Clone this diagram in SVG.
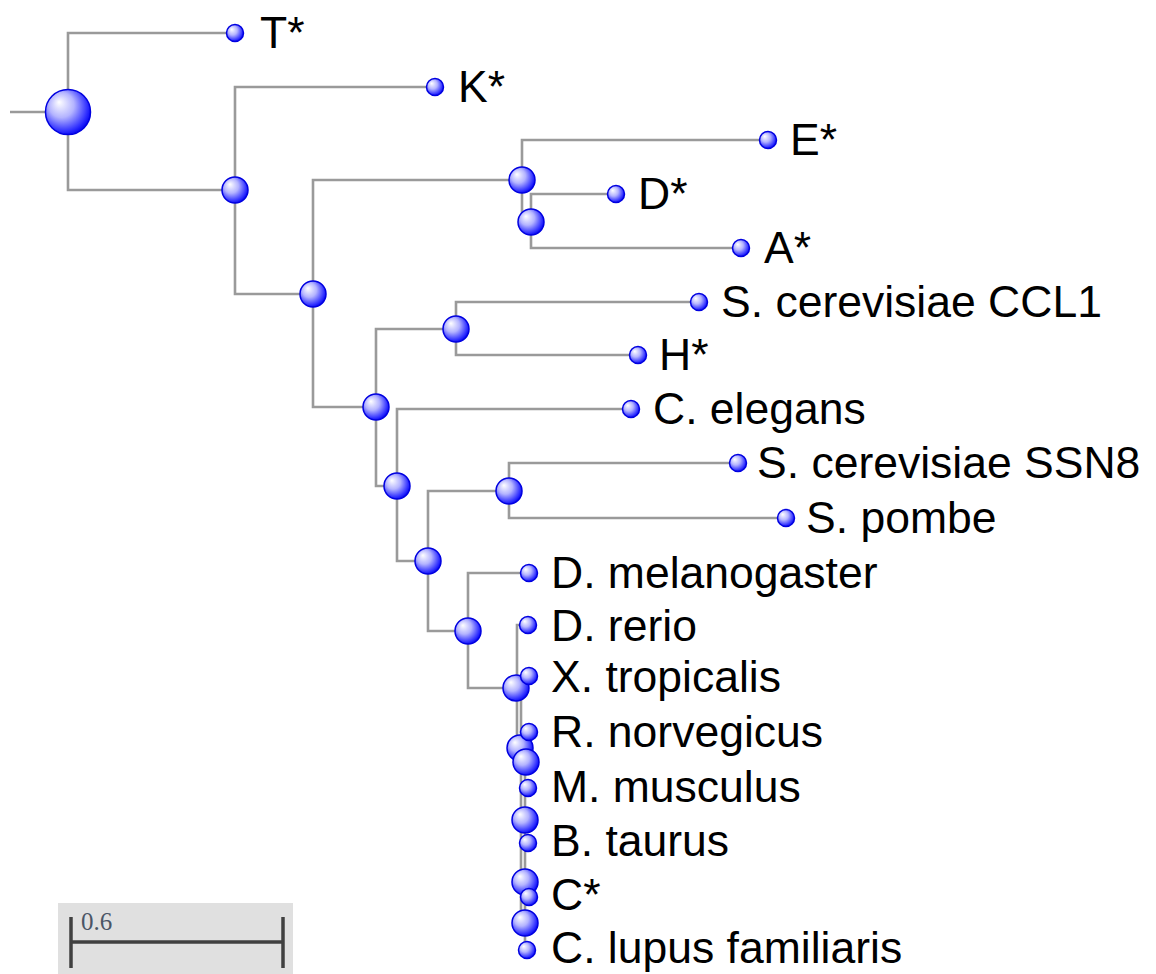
<svg xmlns="http://www.w3.org/2000/svg" width="1156" height="974" viewBox="0 0 1156 974">
<defs>
<radialGradient id="ball" cx="0.42" cy="0.42" r="0.62" fx="0.3" fy="0.28">
<stop offset="0" stop-color="#ffffff"/>
<stop offset="0.45" stop-color="#b4b4ff"/>
<stop offset="0.85" stop-color="#3030ff"/>
<stop offset="1" stop-color="#0000f0"/>
</radialGradient>
<style>
.br{fill:none;stroke:#9a9a9a;stroke-width:2.6}
.n{fill:url(#ball);stroke:#0000e0;stroke-width:1.5}
.lab{font-family:"Liberation Sans",Arial,sans-serif;font-size:44.5px;fill:#000}
.sb{fill:none;stroke:#404040;stroke-width:3.5}
</style>
</defs>
<rect width="1156" height="974" fill="#ffffff"/>
<g id="connectors" class="br">
<path d="M10,112 H46"/>
<path d="M235,33 H68 V190 H235"/>
<path d="M435,87 H235 V294 H313"/>
<path d="M522,180 H313 V407 H376"/>
<path d="M768,140 H522 V222 H531"/>
<path d="M616,194 H531 V248 H741"/>
<path d="M456,329 H376 V486 H397"/>
<path d="M699,302 H456 V355 H638"/>
<path d="M631,409 H397 V561 H428"/>
<path d="M509,491 H428 V631 H468"/>
<path d="M738,463 H509 V518 H786"/>
<path d="M529,573 H468 V688 H516"/>
<path d="M528,625 H517 V760"/>
<path d="M521,690 V925"/>
<path d="M525,750 V950 H527"/>
<path d="M520,676 H529"/>
<path d="M520,732 H529"/>
<path d="M525,788 H528"/>
<path d="M525,843 H528"/>
<path d="M525,897 H529"/>
</g>
<g id="root"><circle class="n" cx="68" cy="112" r="22.5"/></g>
<g id="n1"><circle class="n" cx="235" cy="190" r="13"/></g>
<g id="n2"><circle class="n" cx="313" cy="294" r="13"/></g>
<g id="n3"><circle class="n" cx="522" cy="180" r="13"/></g>
<g id="n4"><circle class="n" cx="531" cy="222" r="13"/></g>
<g id="n5"><circle class="n" cx="376" cy="407" r="13"/></g>
<g id="n6"><circle class="n" cx="456" cy="329" r="13"/></g>
<g id="n7"><circle class="n" cx="397" cy="486" r="13"/></g>
<g id="n8"><circle class="n" cx="428" cy="561" r="13"/></g>
<g id="n9"><circle class="n" cx="509" cy="491" r="13"/></g>
<g id="n10"><circle class="n" cx="468" cy="631" r="13"/></g>
<g id="n11"><circle class="n" cx="516" cy="688" r="13"/></g>
<g id="n12"><circle class="n" cx="520" cy="748" r="13"/></g>
<g id="n13"><circle class="n" cx="526" cy="762" r="13"/></g>
<g id="n14"><circle class="n" cx="525" cy="820" r="13"/></g>
<g id="n15"><circle class="n" cx="525" cy="882" r="13"/></g>
<g id="n16"><circle class="n" cx="525" cy="923" r="13"/></g>
<g id="leaf-T"><circle class="n" cx="235" cy="33" r="8.5"/><text class="lab" x="260" y="48">T*</text></g>
<g id="leaf-K"><circle class="n" cx="435" cy="87" r="8.5"/><text class="lab" x="458" y="102">K*</text></g>
<g id="leaf-E"><circle class="n" cx="768" cy="140" r="8.5"/><text class="lab" x="790" y="155">E*</text></g>
<g id="leaf-D"><circle class="n" cx="616" cy="194" r="8.5"/><text class="lab" x="638" y="209">D*</text></g>
<g id="leaf-A"><circle class="n" cx="741" cy="248" r="8.5"/><text class="lab" x="764" y="263">A*</text></g>
<g id="leaf-CCL1"><circle class="n" cx="699" cy="302" r="8.5"/><text class="lab" x="721" y="317">S. cerevisiae CCL1</text></g>
<g id="leaf-H"><circle class="n" cx="638" cy="355" r="8.5"/><text class="lab" x="659" y="370">H*</text></g>
<g id="leaf-Cel"><circle class="n" cx="631" cy="409" r="8.5"/><text class="lab" x="653" y="424">C. elegans</text></g>
<g id="leaf-SSN8"><circle class="n" cx="738" cy="463" r="8.5"/><text class="lab" x="757" y="478">S. cerevisiae SSN8</text></g>
<g id="leaf-Spo"><circle class="n" cx="786" cy="518" r="8.5"/><text class="lab" x="806" y="533">S. pombe</text></g>
<g id="leaf-Dme"><circle class="n" cx="529" cy="573" r="8.5"/><text class="lab" x="551" y="588">D. melanogaster</text></g>
<g id="leaf-Dre"><circle class="n" cx="528" cy="625" r="8.5"/><text class="lab" x="551" y="641">D. rerio</text></g>
<g id="leaf-Xtr"><circle class="n" cx="529" cy="676" r="8.5"/><text class="lab" x="551" y="692">X. tropicalis</text></g>
<g id="leaf-Rno"><circle class="n" cx="529" cy="732" r="8.5"/><text class="lab" x="551" y="747">R. norvegicus</text></g>
<g id="leaf-Mmu"><circle class="n" cx="528" cy="788" r="8.5"/><text class="lab" x="551" y="802">M. musculus</text></g>
<g id="leaf-Bta"><circle class="n" cx="528" cy="843" r="8.5"/><text class="lab" x="551" y="856">B. taurus</text></g>
<g id="leaf-C"><circle class="n" cx="529" cy="897" r="8.5"/><text class="lab" x="551" y="910">C*</text></g>
<g id="leaf-Clu"><circle class="n" cx="527" cy="950" r="8.5"/><text class="lab" x="551" y="963">C. lupus familiaris</text></g>
<g id="scale-bar">
<rect x="58" y="903" width="235" height="71" fill="#e0e0e0"/>
<path class="sb" d="M71,917 V968 M283,917 V968 M71,942 H283"/>
<text x="81" y="930" font-family="'Liberation Serif',serif" font-size="25" fill="#4a5566">0.6</text>
</g>
</svg>
